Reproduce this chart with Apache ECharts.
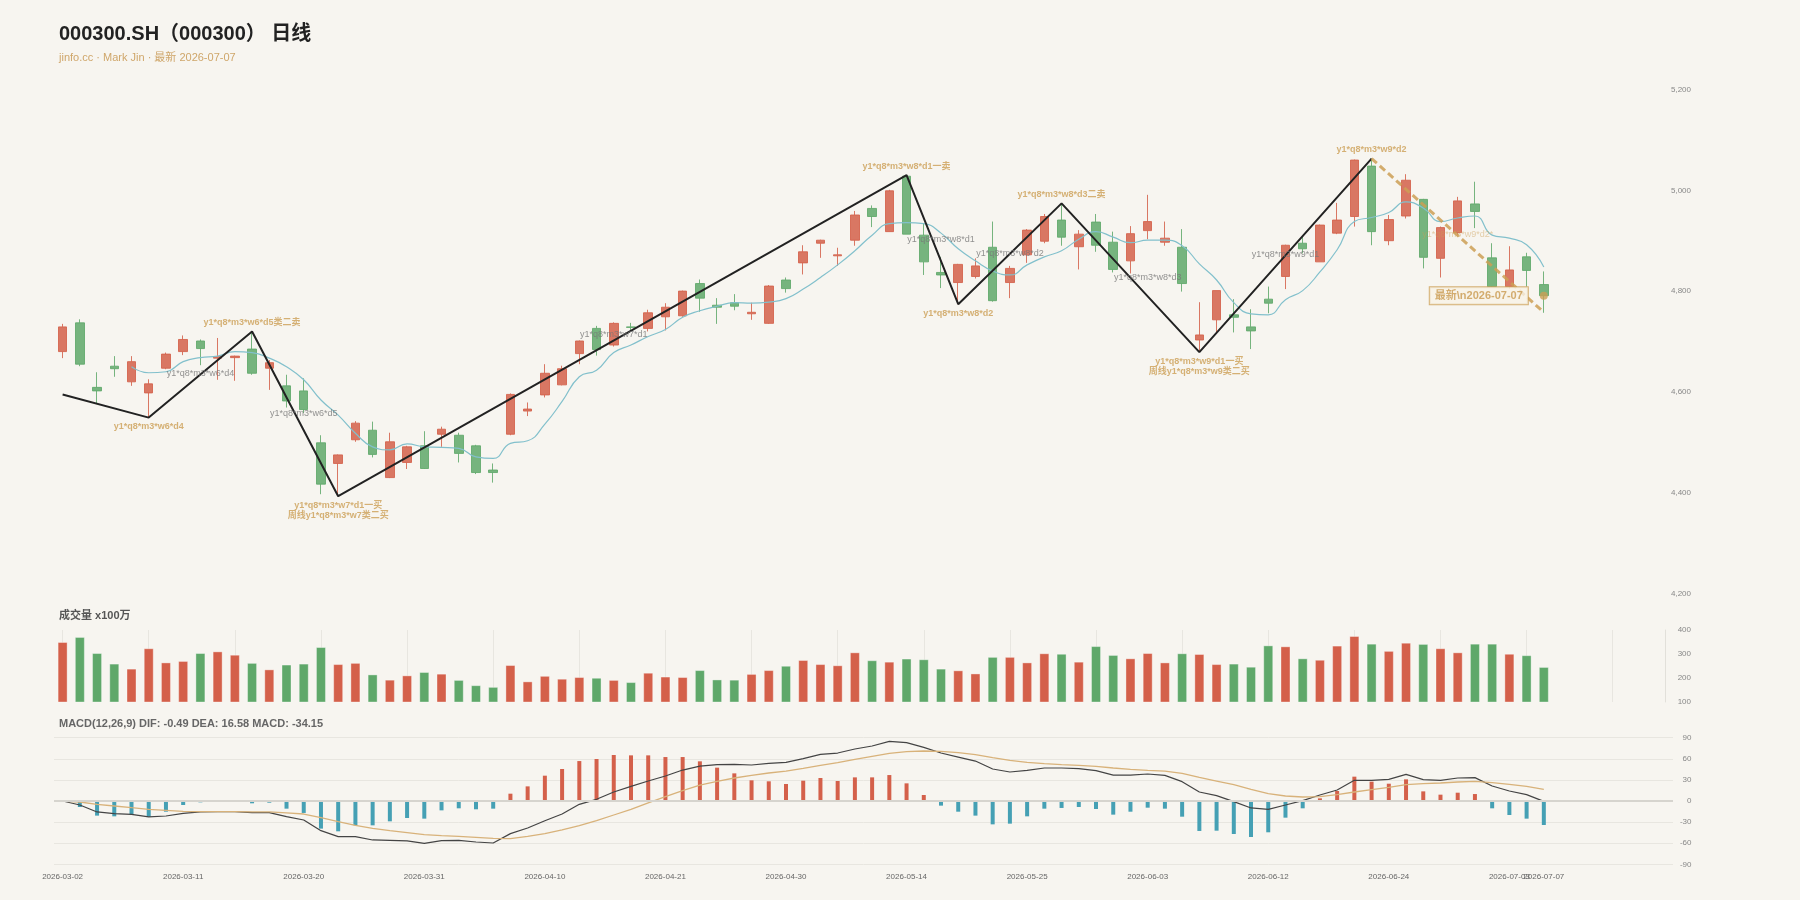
<!DOCTYPE html>
<html><head><meta charset="utf-8">
<script src="https://cdn.jsdelivr.net/npm/echarts@6/dist/echarts.min.js"></script>
<style>html,body{margin:0;padding:0;background:#f7f5f0;}#c{width:1800px;height:900px;}</style>
</head><body><div id="c"></div>
<script>
const dates = ['2026-03-02','2026-03-03','2026-03-04','2026-03-05','2026-03-06','2026-03-09','2026-03-10','2026-03-11','2026-03-12','2026-03-13','2026-03-16','2026-03-17','2026-03-18','2026-03-19','2026-03-20','2026-03-23','2026-03-24','2026-03-25','2026-03-26','2026-03-27','2026-03-30','2026-03-31',
'2026-04-01','2026-04-02','2026-04-03','2026-04-07','2026-04-08','2026-04-09','2026-04-10','2026-04-13','2026-04-14','2026-04-15','2026-04-16','2026-04-17','2026-04-20','2026-04-21','2026-04-22','2026-04-23','2026-04-24','2026-04-27','2026-04-28','2026-04-29','2026-04-30',
'2026-05-06','2026-05-07','2026-05-08','2026-05-11','2026-05-12','2026-05-13','2026-05-14','2026-05-15','2026-05-18','2026-05-19','2026-05-20','2026-05-21','2026-05-22','2026-05-25','2026-05-26','2026-05-27','2026-05-28','2026-05-29',
'2026-06-01','2026-06-02','2026-06-03','2026-06-04','2026-06-05','2026-06-08','2026-06-09','2026-06-10','2026-06-11','2026-06-12','2026-06-15','2026-06-16','2026-06-17','2026-06-18','2026-06-22','2026-06-23','2026-06-24','2026-06-25','2026-06-26','2026-06-29','2026-06-30',
'2026-07-01','2026-07-02','2026-07-03','2026-07-06','2026-07-07'];
const padCats = ['', '', '', '', '', '', ''];

const opens = [4680,4737,4609,4651,4620,4598,4647,4680,4701,4667, 4668,4685,4647,4612,4602,4499,4458,4505,4524,4430, 4460,4493,4516,4514,4493,4445,4516,4562,4594,4614, 4676,4726,4693,4729,4726,4749,4751,4815,4772,4777, 4755,4736,4822,4856,4895,4870,4901,4964,4918,5028, 4911,4837,4817,4829,4887,4817,4872,4899,4941,4888, 4937,4897,4860,4920,4897,4887,4703,4743,4753,4729, 4784,4829,4895,4858,4915,4948,5048,4900,4949,4982, 4865,4916,4973,4866,4809,4868,4813];
const closes = [4729,4655,4602,4646,4660,4616,4675,4704,4686,4670, 4671,4637,4658,4582,4565,4417,4475,4538,4476,4501, 4491,4448,4526,4478,4440,4440,4595,4566,4637,4646, 4701,4684,4736,4728,4757,4768,4800,4786,4768,4770, 4758,4810,4805,4878,4901,4872,4951,4948,4999,4913, 4858,4832,4853,4850,4781,4845,4921,4948,4907,4913, 4891,4843,4914,4938,4905,4815,4713,4801,4748,4721, 4776,4891,4884,4931,4941,5060,4918,4942,5020,4867, 4926,4979,4958,4809,4842,4841,4791];
const lows = [4667,4651,4577,4630,4612,4549,4645,4673,4653,4624, 4622,4634,4604,4569,4558,4397,4393,4501,4470,4429, 4447,4447,4491,4460,4437,4420,4514,4552,4589,4613, 4655,4672,4690,4719,4720,4722,4749,4759,4735,4762, 4743,4735,4797,4833,4866,4850,4890,4927,4918,4913, 4832,4806,4774,4825,4779,4786,4856,4895,4890,4843, 4878,4837,4835,4903,4890,4799,4679,4715,4718,4685, 4756,4804,4875,4858,4913,4928,4891,4891,4944,4845, 4827,4911,4925,4808,4805,4809,4757];
const highs = [4735,4744,4639,4671,4671,4625,4678,4712,4704,4707, 4672,4720,4663,4634,4627,4514,4476,4542,4541,4519, 4493,4522,4531,4519,4495,4458,4597,4579,4655,4652, 4702,4731,4738,4737,4763,4776,4801,4823,4786,4794, 4777,4812,4827,4891,4902,4886,4959,4970,5001,5030, 4934,4868,4854,4865,4938,4850,4923,4953,4974,4921, 4953,4918,4929,4991,4938,4923,4778,4801,4784,4764, 4809,4892,4908,4932,4975,5061,5063,4951,5032,4983, 4928,4987,5017,4895,4889,4876,4839];
const volumes = [350,371,304,260,239,324,265,271,304,311, 297,263,236,256,260,329,258,263,215,193, 211,225,218,192,170,163,254,186,209,197, 204,201,192,183,222,206,204,233,194,193, 217,233,251,275,258,253,307,274,268,281, 278,239,232,219,288,288,265,303,301,268, 333,296,282,304,265,303,300,258,260,247, 336,332,282,276,335,375,343,313,347,342, 324,307,343,343,301,295,246];
const ma5 = [null,null,null,null,4650,4638,4640,4660,4668,4671, 4680,4678,4667,4650,4624,4584,4554,4518,4491,4485, 4497,4491,4490,4488,4471,4468,4498,4503,4536,4581, 4630,4643,4678,4693,4710,4724,4748,4761,4770,4777, 4776,4778,4785,4804,4827,4852,4880,4911,4934,4936, 4934,4915,4884,4860,4840,4832,4852,4868,4880,4903, 4918,4907,4896,4901,4901,4890,4854,4822,4777,4755, 4753,4783,4801,4838,4882,4938,4946,4956,4977,4965, 4938,4945,4949,4911,4905,4892,4848];
const dif = [0,-5.7,-15.6,-18,-19,-22.7,-21.3,-17.5,-15.6,-15.2, -15.2,-16.6,-16.6,-22.3,-27,-42.2,-50.7,-50.7,-55.4,-55.9, -56.8,-60.2,-56.4,-55.9,-58.3,-59.7,-46.4,-38.4,-28,-18.5, -4.7,2.4,12.8,20.8,28.4,35.5,44,49.7,51.6,52.1, 51.2,53.5,55,60.2,66.3,68.2,73.9,78.2,84.8,82.9, 76.3,68.2,62.5,56.8,45.5,41.2,43.6,46.9,46.9,45.9, 43.1,36.9,36.9,38.4,36.5,27.5,12.8,7.6,-0.9,-9.9, -11.8,-5.7,0.5,8.5,15.6,29.4,29.4,30.8,37.9,30.3, 29.4,32.7,33.2,21.3,14.2,9,-0.49];
const dea = [0,-1.4,-4.7,-7.1,-9.5,-11.8,-13.3,-14.7,-15.2,-15.2, -15.2,-15.6,-15.6,-17,-18.5,-23.7,-29.4,-34.6,-38.8,-42.2, -45,-47.8,-49.3,-50.2,-51.6,-53,-53.5,-50.2,-46.4,-41.2, -35,-28,-19.9,-11.8,-2.8,6.2,14.7,22.7,28,32.7, 36.5,39.8,42.6,46.4,50.7,54.5,59.2,63.5,67.7,70.1, 71.1,70.6,68.7,65.8,61.6,57.8,55,53.1,51.6,50.7, 49.3,46.9,45,43.6,42.6,39.3,33.6,28.4,23.2,16.6, 10.4,7.1,5.7,6.2,9,12.8,16.1,19.4,23.2,24.6, 25.6,27,28,26,23.7,20.8,16.58];
const macdHist = [0,-8.5,-20.8,-21.8,-18.9,-22.3,-15.2,-5.7,-1.9,-0.9, -0.3,-3.3,-2.4,-10.9,-17,-39.3,-43.1,-34.6,-34.6,-28.9, -24.2,-25.1,-13.3,-10.4,-11.8,-10.9,10.4,20.8,36,45.5, 56.8,59.7,65.4,64.9,64.9,62.5,62.5,56.4,47.4,39.3, 29.4,28,24.2,28.9,32.7,28.4,33.6,33.6,36.9,25.1, 8.5,-6.6,-15.2,-20.8,-33.2,-32.2,-21.8,-10.9,-9.9,-8.5, -11.4,-19.4,-15.2,-9.5,-10.9,-22.3,-42.6,-42.2,-46.9,-51.2, -44.5,-23.7,-10.4,3.8,14.2,34.6,27.5,24.6,30.8,13.7, 9,11.8,9.9,-10.4,-19.9,-25.1,-34.15];

const pivotIdx = [0,5,11,16,49,52,58,66,76];
const pivotVal = [4595,4549,4720,4393,5030,4774,4974,4679,5063];
const pivotText = ['', 'y1*q8*m3*w6*d4', 'y1*q8*m3*w6*d5类二卖', 'y1*q8*m3*w7*d1一买\n周线y1*q8*m3*w7类二买', 'y1*q8*m3*w8*d1一卖', 'y1*q8*m3*w8*d2', 'y1*q8*m3*w8*d3二卖', 'y1*q8*m3*w9*d1一买\n周线y1*q8*m3*w9类二买', 'y1*q8*m3*w9*d2'];
const segIdx = [8,14,32,51,55,63,71];
const segVal = [4637,4558,4714,4903,4875,4827,4872];
const segText = ['y1*q8*m3*w6*d4','y1*q8*m3*w6*d5','y1*q8*m3*w7*d1','y1*q8*m3*w8*d1','y1*q8*m3*w8*d2','y1*q8*m3*w8*d3','y1*q8*m3*w9*d1'];
const pendIdx = [81];
const pendVal = [4912];
const pendText = ['y1*q8*m3*w9*d2*'];
const projIdx = [76, 86];
const projVal = [5063, 4758];
const latestIdx = 86;
const latestVal = 4791;
const latestText = '最新\\n2026-07-07';
const titleText = '000300.SH（000300） 日线';
const subText = 'jinfo.cc · Mark Jin · 最新 2026-07-07';
const volTitle = '成交量 x100万';
const macdTitle = 'MACD(12,26,9) DIF: -0.49 DEA: 16.58 MACD: -34.15';

const FONT = "'Liberation Sans', Arial, 'Noto Sans CJK SC', sans-serif";
const UP = '#d4604a', DOWN = '#5fa86a', TAN = '#cc9f55', TEAL = '#45a0b4';
const N = dates.length;
const cats = dates.concat(padCats);

const chart = echarts.init(document.getElementById('c'), null, {renderer: 'canvas'});

const pivotData = pivotIdx.map((x, k) => {
  const prev = k > 0 ? pivotVal[k - 1] : pivotVal[k + 1];
  const isHigh = pivotVal[k] > prev;
  return {value: [x, pivotVal[k]], label: {show: !!pivotText[k], formatter: pivotText[k], position: isHigh ? 'top' : 'bottom'}};
});

const hiddenCat = (gi) => ({type: 'category', gridIndex: gi, data: cats, boundaryGap: true,
  axisLine: {show: false}, axisTick: {show: false}, axisLabel: {show: false}, splitLine: {show: false}});
const dateLabel = (fn) => ({show: true, interval: fn, color: '#666', fontSize: 8, margin: 8, hideOverlap: false});

const option = {
  backgroundColor: '#f7f5f0',
  animation: false,
  textStyle: {fontFamily: FONT},
  graphic: [
    {type: 'text', left: 59, top: 24, style: {text: titleText, font: 'bold 20px ' + FONT, fill: '#222'}},
    {type: 'text', left: 59, top: 52, style: {text: subText, font: '11px ' + FONT, fill: '#cfa66a'}},
    {type: 'text', left: 59, top: 610, style: {text: volTitle, font: 'bold 11px ' + FONT, fill: '#555'}},
    {type: 'text', left: 59, top: 718, style: {text: macdTitle, font: 'bold 11px ' + FONT, fill: '#666'}}
  ],
  grid: [
    {left: 54, right: 127, top: 89.5, height: 504},
    {left: 54, right: 127, top: 630, height: 72},
    {left: 54, right: 127, top: 737.7, height: 126.6}
  ],
  xAxis: [
    hiddenCat(0),
    Object.assign(hiddenCat(1), {splitLine: {show: true, interval: 4, alignWithLabel: true, lineStyle: {color: '#e8e6e0', width: 1}}}),
    Object.assign(hiddenCat(2), {axisLabel: dateLabel((i) => i < N - 1 && i % 7 === 0)}),
    Object.assign(hiddenCat(2), {position: 'bottom', offset: 0, axisLabel: dateLabel((i) => i === N - 1)})
  ],
  yAxis: [
    {type: 'value', gridIndex: 0, position: 'right', min: 4200, max: 5200, interval: 200,
      axisLine: {show: false}, axisTick: {show: false}, splitLine: {show: false},
      axisLabel: {color: '#888', fontSize: 8, margin: 18, align: 'right', formatter: (v) => v.toLocaleString('en-US')}},
    {type: 'value', gridIndex: 1, position: 'right', offset: -8, min: 100, max: 400, interval: 100,
      axisLine: {show: true, lineStyle: {color: '#e2e0da'}}, axisTick: {show: false}, splitLine: {show: false},
      axisLabel: {color: '#888', fontSize: 8, margin: 26, align: 'right'}},
    {type: 'value', gridIndex: 2, position: 'right', min: -90, max: 90, interval: 30,
      axisLine: {show: false}, axisTick: {show: false}, splitLine: {show: true, lineStyle: {color: '#e8e6e0'}},
      axisLabel: {color: '#888', fontSize: 8, margin: 18.5, align: 'right'}}
  ],
  series: [
    {type: 'candlestick', xAxisIndex: 0, yAxisIndex: 0, barWidth: 9,
      data: opens.map((o, i) => [o, closes[i], lows[i], highs[i]]),
      itemStyle: {color: UP, color0: DOWN, borderColor: UP, borderColor0: DOWN, opacity: 0.85, borderWidth: 1}},
    {type: 'line', xAxisIndex: 0, yAxisIndex: 0, data: ma5, smooth: true, symbol: 'none',
      lineStyle: {color: '#82c0cc', width: 1.2}, z: 3},
    {type: 'line', xAxisIndex: 0, yAxisIndex: 0, data: pivotIdx.map((x, k) => [x, pivotVal[k]]), symbol: 'none',
      lineStyle: {color: '#222', width: 2}, z: 4},
    {type: 'line', xAxisIndex: 0, yAxisIndex: 0, data: projIdx.map((x, k) => [x, projVal[k]]), symbol: 'none',
      lineStyle: {color: TAN, width: 3, type: [7, 4], opacity: 0.85}, z: 4},
    {type: 'scatter', xAxisIndex: 0, yAxisIndex: 0, data: pivotData, symbolSize: 0.1,
      itemStyle: {color: 'transparent'}, z: 6,
      label: {show: true, distance: 4, color: TAN, fontSize: 9, fontWeight: 'bold', lineHeight: 10, align: 'center', fontFamily: FONT}},
    {type: 'scatter', xAxisIndex: 0, yAxisIndex: 0, data: segIdx.map((x, k) => ({value: [x, segVal[k]], label: {formatter: segText[k]}})),
      symbolSize: 0.1, itemStyle: {color: 'transparent'}, z: 6,
      label: {show: true, position: 'inside', color: '#777', fontSize: 9, fontFamily: FONT}},
    {type: 'scatter', xAxisIndex: 0, yAxisIndex: 0, data: pendIdx.map((x, k) => ({value: [x, pendVal[k]], label: {formatter: pendText[k]}})),
      symbolSize: 0.1, itemStyle: {color: 'transparent'}, z: 6,
      label: {show: true, position: 'inside', color: 'rgba(204,159,85,0.6)', fontSize: 9, fontFamily: FONT}},
    {type: 'scatter', xAxisIndex: 0, yAxisIndex: 0, data: [[latestIdx, latestVal]], symbol: 'circle', symbolSize: 8,
      itemStyle: {color: TAN}, z: 7,
      label: {show: true, position: 'left', distance: 12, formatter: latestText, fontSize: 11, fontWeight: 'bold',
        color: '#c99a4f', backgroundColor: '#f8f3e6', borderColor: TAN, borderWidth: 1, padding: [3, 5], fontFamily: FONT}},
    {type: 'bar', xAxisIndex: 1, yAxisIndex: 1, data: volumes, barWidth: 10, clip: true,
      itemStyle: {color: (p) => closes[p.dataIndex] >= opens[p.dataIndex] ? UP : DOWN, borderColor: 'rgba(255,255,255,0.35)', borderWidth: 1}},
    {type: 'bar', xAxisIndex: 2, yAxisIndex: 2, data: macdHist, barWidth: 4,
      itemStyle: {color: (p) => p.value >= 0 ? UP : TEAL},
      markLine: {silent: true, symbol: ['none', 'none'], label: {show: false}, data: [{yAxis: 0}],
        lineStyle: {color: '#d6d4ce', width: 2, type: 'solid'}}},
    {type: 'line', xAxisIndex: 2, yAxisIndex: 2, data: dif, symbol: 'none', lineStyle: {color: '#444', width: 1.2}, z: 4},
    {type: 'line', xAxisIndex: 3, yAxisIndex: 2, data: dea, symbol: 'none', lineStyle: {color: '#d8b27a', width: 1.3}, z: 4}
  ]
};
chart.setOption(option);
</script>
</body></html>
